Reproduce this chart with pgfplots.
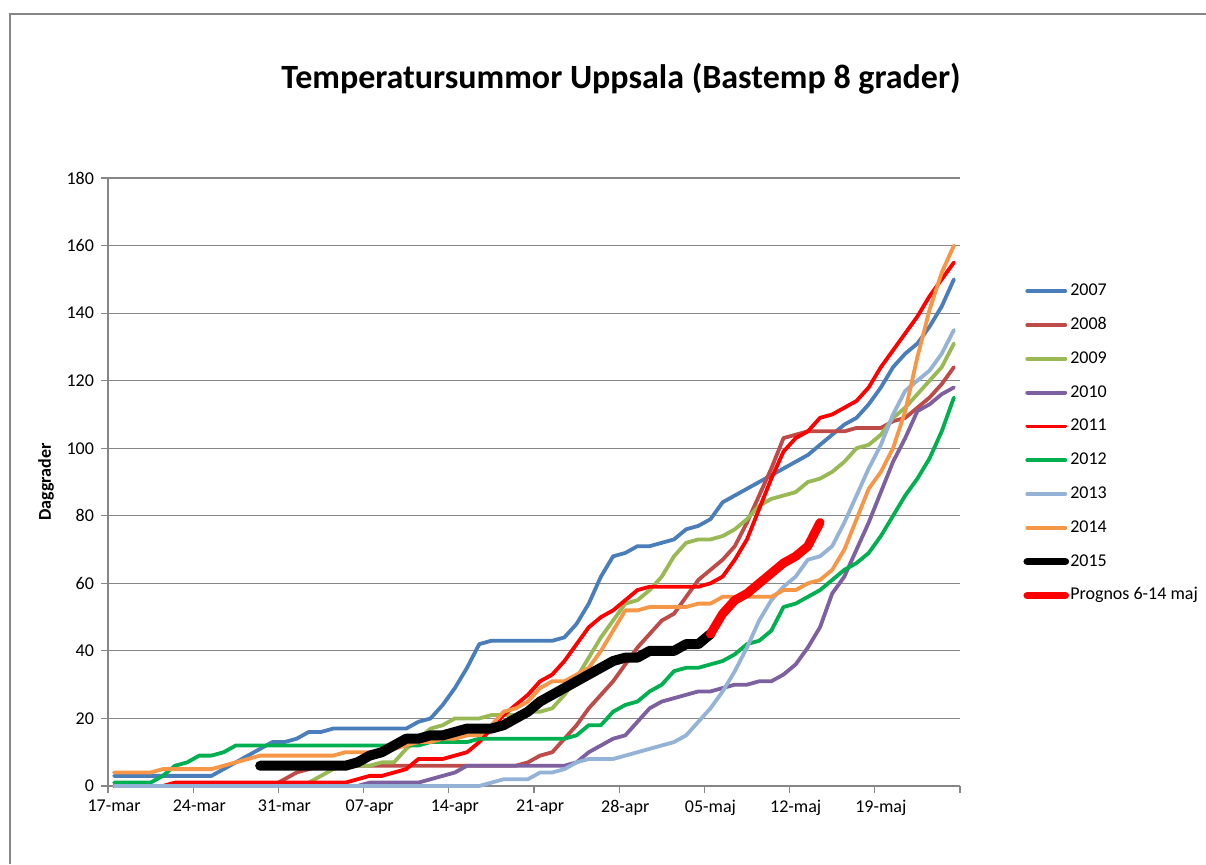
\documentclass[border=0pt]{standalone}
\usepackage{fontspec}
\setmainfont{Carlito}
\usepackage{pgfplots}
\usepackage{pgfplotstable}
\pgfplotsset{compat=1.18}
\definecolor{c07}{HTML}{4A7EBB}
\definecolor{c08}{HTML}{BE4B48}
\definecolor{c09}{HTML}{98B954}
\definecolor{c10}{HTML}{7D60A0}
\definecolor{c11}{HTML}{FF0000}
\definecolor{c12}{HTML}{00B050}
\definecolor{c13}{HTML}{95B3D7}
\definecolor{c14}{HTML}{F79646}
\definecolor{gridgray}{HTML}{868686}

\pgfplotstableread{
d  a   b   c   e   f   g   h   i
0  3   0   0   0   0   1   0   4
1  3   0   0   0   0   1   0   4
2  3   0   0   0   0   1   0   4
3  3   0   0   0   0   1   0   4
4  3   0   0   0   0   3   0   5
5  3   0   0   0   1   6   0   5
6  3   0   0   0   1   7   0   5
7  3   0   0   0   1   9   0   5
8  3   0   0   0   1   9   0   5
9  5   0   0   0   1   10  0   6
10 7   0   0   0   1   12  0   7
11 9   0   0   0   1   12  0   8
12 11  0   0   0   1   12  0   9
13 13  0   0   0   1   12  0   9
14 13  2   0   0   1   12  0   9
15 14  4   0   0   1   12  0   9
16 16  5   1   0   1   12  0   9
17 16  6   3   0   1   12  0   9
18 17  6   5   0   1   12  0   9
19 17  6   6   0   1   12  0   10
20 17  6   6   0   2   12  0   10
21 17  6   6   1   3   12  0   10
22 17  6   7   1   3   12  0   10
23 17  6   7   1   4   12  0   11
24 17  6   11  1   5   12  0   12
25 19  6   14  1   8   12  0   13
26 20  6   17  2   8   13  0   13
27 24  6   18  3   8   13  0   14
28 29  6   20  4   9   13  0   14
29 35  6   20  6   10  13  0   15
30 42  6   20  6   13  14  0   15
31 43  6   21  6   17  14  1   18
32 43  6   21  6   21  14  2   22
33 43  6   21  6   24  14  2   23
34 43  7   22  6   27  14  2   25
35 43  9   22  6   31  14  4   29
36 43  10  23  6   33  14  4   31
37 44  14  27  6   37  14  5   31
38 48  18  32  7   42  15  7   33
39 54  23  38  10  47  18  8   35
40 62  27  44  12  50  18  8   40
41 68  31  49  14  52  22  8   46
42 69  36  54  15  55  24  9   52
43 71  41  55  19  58  25  10  52
44 71  45  58  23  59  28  11  53
45 72  49  62  25  59  30  12  53
46 73  51  68  26  59  34  13  53
47 76  56  72  27  59  35  15  53
48 77  61  73  28  59  35  19  54
49 79  64  73  28  60  36  23  54
50 84  67  74  29  62  37  28  56
51 86  71  76  30  67  39  34  56
52 88  78  79  30  73  42  41  56
53 90  86  83  31  82  43  49  56
54 92  94  85  31  91  46  55  56
55 94  103 86  33  99  53  59  58
56 96  104 87  36  103 54  62  58
57 98  105 90  41  105 56  67  60
58 101 105 91  47  109 58  68  61
59 104 105 93  57  110 61  71  64
60 107 105 96  62  112 64  78  70
61 109 106 100 70  114 66  86  79
62 113 106 101 78  118 69  94  88
63 118 106 104 87  124 74  101 93
64 124 108 109 96  129 80  110 100
65 128 109 112 103 134 86  117 111
66 131 112 116 111 139 91  120 127
67 136 115 120 113 145 97  123 141
68 142 119 124 116 150 105 128 152
69 150 124 131 118 155 115 135 160
}\datamain

\pgfplotstableread{
d v
12 6
13 6
14 6
15 6
16 6
17 6
18 6
19 6
20 7
21 9
22 10
23 12
24 14
25 14
26 15
27 15
28 16
29 17
30 17
31 17
32 18
33 20
34 22
35 25
36 27
37 29
38 31
39 33
40 35
41 37
42 38
43 38
44 40
45 40
46 40
47 42
48 42
49 45
}\datafifteen

\pgfplotstableread{
d v
49 45
50 51
51 55
52 57
53 60
54 63
55 66
56 68
57 71
58 78
}\dataprog

\begin{document}
\begin{tikzpicture}
\path[use as bounding box, fill=white] (0pt,0pt) rectangle (603pt,432pt);
\draw[gridgray, line width=0.6pt] (5pt,0pt) -- (5pt,425pt) -- (603pt,425pt);
\node[font=\bfseries\fontsize{17}{20}\selectfont] at (310.5pt,392.5pt) {Temperatursummor Uppsala (Bastemp 8 grader)};
\node[rotate=90, font=\bfseries\fontsize{9}{11}\selectfont] at (23pt,191pt) {Daggrader};
\begin{axis}[
  at={(54pt,39pt)}, anchor=south west,
  scale only axis, width=426pt, height=304pt,
  xmin=-0.5, xmax=69.5, ymin=0, ymax=180,
  clip=false,
  axis x line*=bottom, axis y line*=left,
  axis line style={gridgray, line width=0.6pt, -},
  tick align=outside, major tick length=3.5pt,
  tick style={gridgray, line width=0.6pt},
  ytick={0,20,...,180},
  ymajorgrids, major grid style={gridgray, line width=0.6pt},
  xtick={-0.5,6.5,...,69.5},
  xticklabels={17-mar,24-mar,31-mar,07-apr,14-apr,21-apr,28-apr,05-maj,12-maj,19-maj,{}},
  x tick label style={xshift=3.04pt},
  tick label style={font=\fontsize{9}{11}\selectfont, text=black},
  /pgf/number format/assume math mode=true,
  every axis plot/.append style={mark=none, line join=round, line cap=round, line width=1.9pt},
  legend style={at={(axis description cs:1.067,0.837)}, anchor=north west, draw=none, fill=none,
    font=\fontsize{9}{11}\selectfont, row sep=7.2pt,
    nodes={inner sep=0.6pt, text height=6.5pt, text depth=2pt}},
  legend cell align=left,
  legend image code/.code={\draw[#1, line cap=round] (0pt,0pt) -- (19pt,0pt);},
]
\addplot[c07] table[x=d, y=a] {\datamain}; \addlegendentry{2007}
\addplot[c08] table[x=d, y=b] {\datamain}; \addlegendentry{2008}
\addplot[c09] table[x=d, y=c] {\datamain}; \addlegendentry{2009}
\addplot[c10] table[x=d, y=e] {\datamain}; \addlegendentry{2010}
\addplot[c11] table[x=d, y=f] {\datamain}; \addlegendentry{2011}
\addplot[c12] table[x=d, y=g] {\datamain}; \addlegendentry{2012}
\addplot[c13] table[x=d, y=h] {\datamain}; \addlegendentry{2013}
\addplot[c14] table[x=d, y=i] {\datamain}; \addlegendentry{2014}
\addplot[black, line width=5pt, legend image post style={line width=3.8pt}] table[x=d, y=v] {\datafifteen}; \addlegendentry{2015}
\addplot[c11, line width=4.5pt, legend image post style={line width=3.8pt}] table[x=d, y=v] {\dataprog}; \addlegendentry{Prognos 6-14 maj}
\end{axis}
\end{tikzpicture}
\end{document}
